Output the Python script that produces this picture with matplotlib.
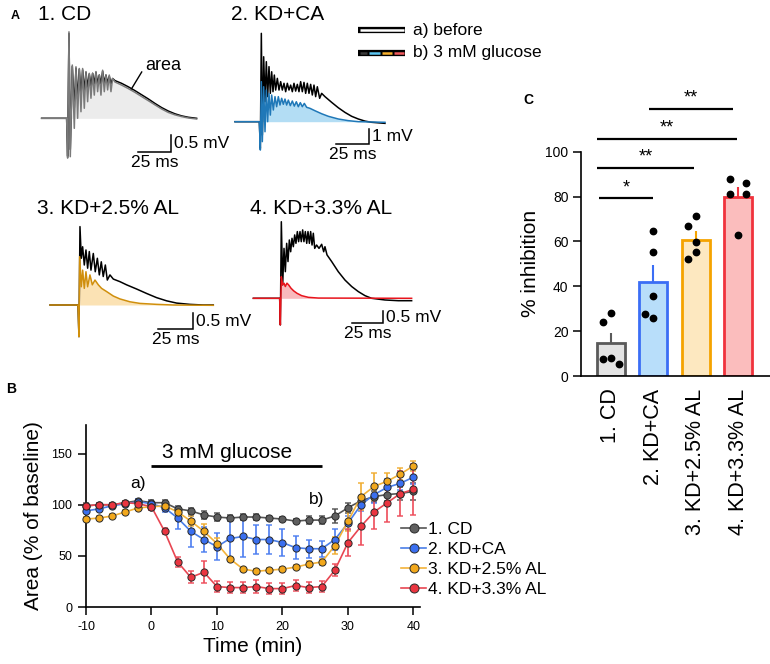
import numpy as np
import matplotlib
matplotlib.use('Agg')
import matplotlib.pyplot as plt
from matplotlib.lines import Line2D

plt.rcParams['font.family'] = ['Liberation Sans', 'DejaVu Sans']
plt.rcParams['axes.unicode_minus'] = False

# ---------------- DATA ----------------
# Panel A traces (time in ms, voltage in mV)
cd_t = [-20, -1.25, -0.5, 0.5, 1.5, 3.0, 4.5, 5.75, 7.0, 8.25, 9.5, 10.75, 12.0, 13.25, 14.5, 15.75,
        17.0, 18.25, 19.5, 20.75, 22.0, 23.25, 24.5, 25.75, 27.0, 28.25, 29.5, 30.75, 32.0, 33.25,
        35, 40, 45, 50, 55, 60, 65, 70, 75, 80, 85, 90, 96.25]
cd_before = [0, 0, -1.1, 2.45, -0.9, 1.50, 0.3, 1.45, 0.55, 1.42, 0.7, 1.40, 0.8, 1.33, 0.9, 1.28,
             0.95, 1.30, 1.0, 1.33, 1.0, 1.25, 1.0, 1.36, 1.02, 1.25, 1.02, 1.22, 1.0, 1.15,
             1.09, 1.01, 0.91, 0.80, 0.68, 0.56, 0.43, 0.31, 0.21, 0.13, 0.07, 0.03, 0.0]
cd_after = [0, 0, -1.15, 2.5, -1.11, 1.54, -0.29, 1.49, 0.0, 1.44, 0.19, 1.44, 0.29, 1.35, 0.48, 1.30,
            0.58, 1.30, 0.67, 1.35, 0.77, 1.25, 0.67, 1.39, 0.77, 1.25, 0.82, 1.25, 0.77, 1.15,
            1.05, 0.96, 0.86, 0.75, 0.63, 0.51, 0.39, 0.27, 0.17, 0.10, 0.05, 0.01, -0.02]

ca_t_before = [-19.5, -1.25, -0.5, 0.25, 1.0, 2.0, 3.0, 4.0, 5.0, 6.0, 7.0, 8.0, 9.0, 10.0, 11.0,
               12.25, 13.5, 14.75, 16.0, 17.25, 18.5, 19.75, 21.0, 22.25, 23.5, 24.75, 26.0, 27.25,
               28.5, 29.75, 31.0, 32.25, 33.5, 34.75, 36.0, 37.25, 38.5, 39.75, 41.0, 42.25, 44.0,
               45.5, 48, 53, 58, 63, 68, 73, 78, 83, 93]
ca_before = [0, 0, -1.78, 5.89, -0.89, 4.33, 1.33, 4.0, 1.67, 3.67, 1.89, 3.33, 2.0, 3.11, 2.11,
             2.89, 2.11, 2.67, 2.11, 2.56, 2.0, 2.56, 2.11, 2.44, 2.0, 2.56, 2.04, 2.49,
             2.0, 2.67, 2.0, 2.62, 1.89, 2.56, 1.89, 2.49, 1.78, 2.44, 1.67, 2.33, 1.56,
             1.89, 1.67, 1.29, 0.93, 0.62, 0.36, 0.18, 0.04, -0.04, -0.11]
ca_t_after = [-19.5, -1.25, -0.5, 0.25, 1.0, 2.0, 3.0, 4.0, 5.0, 6.0, 7.0, 8.0, 9.25, 10.5, 11.75,
              13.0, 14.25, 15.5, 16.75, 18, 19.25, 20.5, 22, 23.5, 25, 26.5, 28, 29.5, 31, 32.5,
              34.25, 36.75, 40.5, 45.5, 50.5, 58, 65.5, 73, 83, 93]
ca_after = [0, 0, -1.89, 2.67, -1.33, 2.33, -0.67, 2.11, 0.0, 1.89, 0.44, 1.78, 0.78, 1.67, 1.0,
            1.67, 1.11, 1.56, 1.16, 1.51, 1.11, 1.44, 1.07, 1.38, 1.04, 1.33, 1.0, 1.27, 1.0, 1.22,
            0.96, 0.89, 0.73, 0.53, 0.36, 0.18, 0.07, 0.0, -0.02, -0.04]

al25_t_before = [-20.9, -0.95, -0.24, 0.48, 1.43, 2.38, 3.57, 4.76, 5.95, 7.14, 8.33, 10.0, 11.4,
                 12.9, 14.3, 15.7, 17.1, 18.6, 20.0, 21.9, 24.3, 29.0, 33.8, 40.9, 48.1, 55.2,
                 62.4, 69.5, 79.0, 88.5, 95.7]
al25_before = [0, 0, -0.99, 2.45, 1.46, 1.82, 1.25, 1.72, 1.15, 1.67, 1.09, 1.61, 1.04,
               1.46, 0.94, 1.35, 0.89, 1.25, 0.78, 0.94, 0.81, 0.73, 0.63, 0.50, 0.36, 0.23,
               0.13, 0.06, 0.02, 0.0, 0.0]
al25_t_after = [-20.9, -0.95, -0.24, 0.24, 1.43, 2.38, 3.57, 4.76, 5.95, 7.6, 9.3, 11.2, 13.6,
                15.9, 19.5, 24.3, 29.0, 36.2, 43.3, 55.2, 67.1, 95.7]
al25_after = [0, 0, -0.99, 1.51, 0.57, 1.09, 0.52, 1.04, 0.57, 0.94, 0.63, 0.78, 0.63,
              0.52, 0.42, 0.28, 0.19, 0.10, 0.05, 0.02, 0.0, -0.01]

al33_t_before = [-21.8, -1.05, -0.53, 0.26, 1.32, 2.37, 3.42, 4.47, 5.52, 6.58, 7.63, 8.68, 9.73,
                 10.8, 11.8, 12.9, 13.9, 15.0, 16.0, 17.1, 18.1, 19.2, 20.3, 21.3, 22.4, 23.4,
                 24.5, 25.5, 26.6, 28.1, 30.0, 32.1, 33.7, 34.7, 36.3, 40.0, 45.2, 50.5, 55.8,
                 61.0, 66.3, 71.5, 82.1, 92.6, 103.1]
al33_before = [0, 0, -1.11, 3.19, 0.56, 2.08, 1.11, 2.29, 1.53, 2.43, 1.94, 2.5, 2.15,
               2.64, 2.29, 2.78, 2.36, 2.78, 2.36, 2.85, 2.36, 2.78, 2.29, 2.78, 2.29, 2.78,
               2.22, 2.71, 2.08, 2.22, 2.08, 2.25, 1.94, 2.15, 1.81, 1.53, 1.11, 0.76, 0.49,
               0.28, 0.11, 0.0, -0.07, -0.1, -0.1]
al33_t_after = [-21.8, -1.05, -0.53, 0.26, 1.32, 2.37, 3.42, 4.7, 6.0, 7.9, 10.0, 12.6, 16.3,
                21.6, 29.5, 103.1]
al33_after = [0, 0, -1.11, 0.9, 0.56, 0.63, 0.49, 0.63, 0.56, 0.42, 0.31, 0.21, 0.11,
              0.04, 0.01, 0.0]

# Panel B: time course (mean +/- SEM, % of baseline)
time_min = [-10, -8, -6, -4, -2, 0, 2, 4, 6, 8, 10, 12, 14, 16, 18, 20, 22, 24, 26, 28, 30, 32, 34, 36, 38, 40]
cd_mean = [99, 100, 100, 102, 104, 102, 102, 96, 94, 90, 88, 87, 88, 88, 87, 86, 84, 85, 85, 89, 97, 104, 108, 110, 111, 113]
cd_sem = [3, 2, 2, 2, 2, 3, 3, 3, 3, 4, 4, 3, 3, 3, 2, 2, 2, 4, 4, 7, 5, 5, 5, 6, 6, 8]
ca_mean = [94, 96, 99, 101, 103, 101, 97, 87, 74, 66, 59, 67, 69, 66, 66, 63, 58, 57, 57, 66, 82, 100, 110, 117, 121, 127]
ca_sem = [2, 2, 2, 2, 3, 3, 4, 11, 15, 12, 13, 18, 20, 14, 14, 13, 11, 9, 8, 10, 7, 6, 8, 8, 7, 7]
al25_mean = [86, 87, 89, 93, 97, 98, 99, 93, 84, 74, 62, 47, 37, 35, 36, 37, 39, 42, 44, 60, 84, 108, 118, 123, 130, 138]
al25_sem = [2, 2, 2, 2, 2, 2, 2, 4, 5, 7, 5, 2, 2, 2, 2, 2, 2, 3, 3, 8, 10, 13, 13, 8, 6, 5]
al33_mean = [99, 100, 100, 102, 101, 98, 74, 44, 29, 34, 20, 19, 19, 20, 18, 18, 21, 19, 20, 36, 63, 79, 93, 102, 111, 115]
al33_sem = [2, 2, 2, 2, 3, 3, 3, 5, 6, 11, 5, 5, 5, 6, 5, 5, 5, 5, 5, 6, 13, 18, 17, 19, 22, 25]
glucose_start, glucose_end = 0, 26

# Panel C: % inhibition
groups = ['1. CD', '2. KD+CA', '3. KD+2.5% AL', '4. KD+3.3% AL']
inhib_mean = [14.5, 41.8, 60.8, 79.7]
inhib_sem = [4.8, 7.8, 3.8, 4.5]
cd_pts = [24.2, 27.9, 7.4, 7.9, 5.5]
ca_pts = [64.6, 55.3, 35.8, 27.5, 26.0]
al25_pts = [71.3, 67.0, 59.6, 55.1, 52.0]
al33_pts = [87.7, 86.0, 81.3, 81.3, 62.7]
sig_labels = ['*', '**', '**', '**']

# ---------------- FIGURE ----------------
W, H = 770, 664
fig = plt.figure(figsize=(W / 100, H / 100), dpi=100)


def px_axes(l, t, r, b):
    ax = fig.add_axes([l / W, 1 - b / H, (r - l) / W, (b - t) / H])
    ax.patch.set_visible(False)
    return ax


ov = px_axes(0, 0, W, H)
ov.set_xlim(0, W)
ov.set_ylim(H, 0)
ov.axis('off')

# panel letters
ov.text(15, 16, 'A', fontsize=9, fontweight='bold', ha='center', va='center')
ov.text(11, 389, 'B', fontsize=10, fontweight='bold', ha='center', va='center')
ov.text(528, 100, 'C', fontsize=10, fontweight='bold', ha='center', va='center')

# ---------------- Panel A ----------------
gray_c, blue_c, orange_c, red_c = '#7a7a7a', '#1f78b8', '#d08f0c', '#e8141c'
gray_f, blue_f, orange_f, red_f = '#ececec', '#b3ddf4', '#fbe2b4', '#f8babd'

insets = [
    dict(title='1. CD', tpos=(38, 15), box=(36, 26, 202, 168), t0=68.3, pxms=1.333, base=118.3, pxmv=34.6,
         tb=cd_t, vb=cd_before, ta=cd_t, va=cd_after, col=gray_c, fcol=gray_f, mv='0.5 mV', mvlen=0.5),
    dict(title='2. KD+CA', tpos=(231, 15), box=(228, 26, 392, 160), t0=261, pxms=1.333, base=121.7, pxmv=15,
         tb=ca_t_before, vb=ca_before, ta=ca_t_after, va=ca_after, col=blue_c, fcol=blue_f, mv='1 mV', mvlen=1.0),
    dict(title='3. KD+2.5% AL', tpos=(37, 209), box=(44, 220, 220, 345), t0=79.3, pxms=1.4, base=305, pxmv=32,
         tb=al25_t_before, vb=al25_before, ta=al25_t_after, va=al25_after, col=orange_c, fcol=orange_f,
         mv='0.5 mV', mvlen=0.5),
    dict(title='4. KD+3.3% AL', tpos=(250, 209), box=(248, 216, 416, 335), t0=281, pxms=1.267, base=298.3, pxmv=24,
         tb=al33_t_before, vb=al33_before, ta=al33_t_after, va=al33_after, col=red_c, fcol=red_f,
         mv='0.5 mV', mvlen=0.5),
]
bar_px = [(171, 152.3), (369, 144.0), (193.3, 329.3), (383.3, 323.3)]

for ins, (bx, by) in zip(insets, bar_px):
    l, t, r, b = ins['box']
    ax = px_axes(l, t, r, b)
    ax.set_xlim((l - ins['t0']) / ins['pxms'], (r - ins['t0']) / ins['pxms'])
    ax.set_ylim((ins['base'] - b) / ins['pxmv'], (ins['base'] - t) / ins['pxmv'])
    ax.axis('off')
    ta = np.array(ins['ta'])
    va = np.array(ins['va'])
    ax.fill_between(ta, np.clip(va, 0, None), 0, where=ta >= 0, color=ins['fcol'], lw=0, zorder=1)
    ax.plot(ins['tb'], ins['vb'], color='black', lw=1.1, zorder=2, clip_on=False)
    ax.plot(ta, va, color=ins['col'], lw=1.1, zorder=3, clip_on=False)
    # scale bars
    tc = (bx - ins['t0']) / ins['pxms']
    vc = (ins['base'] - by) / ins['pxmv']
    ax.plot([tc - 25, tc, tc], [vc, vc, vc + ins['mvlen']], color='black', lw=1.1, clip_on=False,
            solid_joinstyle='miter')
    ov.text(bx + 3, by - ins['mvlen'] * ins['pxmv'] / 2, ins['mv'], fontsize=12.5, ha='left', va='center')
    ov.text(bx - 25 * ins['pxms'] / 2, by + 3, '25 ms', fontsize=12.5, ha='center', va='top')
    ov.text(ins['tpos'][0], ins['tpos'][1], ins['title'], fontsize=15, ha='left', va='center')
    if ins['title'] == '1. CD':
        ov.text(163, 66, 'area', fontsize=13, ha='center', va='center')
        ov.plot([141.7, 121.7], [72, 105], color='black', lw=1)

# Panel A legend glyphs
ov.plot([358, 405], [30, 30], color='black', lw=4.5, solid_capstyle='butt')
ov.plot([359.5, 403.5], [30, 30], color='white', lw=1.8, solid_capstyle='butt')
ov.plot([358, 405], [53, 53], color='black', lw=4.5, solid_capstyle='butt')
for (x0, x1), c in zip([(359.5, 366.5), (368.5, 379.5), (381.5, 391.5), (393.5, 403.5)],
                       ['#3a3a3a', '#5cc6f2', '#f7b02e', '#f25a5e']):
    ov.plot([x0, x1], [53, 53], color=c, lw=1.8, solid_capstyle='butt')
ov.text(413, 30, 'a) before', fontsize=12.5, ha='left', va='center')
ov.text(413, 53, 'b) 3 mM glucose', fontsize=12.5, ha='left', va='center')

# ---------------- Panel B ----------------
axB = px_axes(86, 425, 420, 607)
series = [
    ('1. CD', cd_mean, cd_sem, '#5f5f5f', '#555555', '#505050'),
    ('2. KD+CA', ca_mean, ca_sem, '#3a6ff0', '#4a7ee8', '#4a7cf0'),
    ('3. KD+2.5% AL', al25_mean, al25_sem, '#f2a81c', '#f3b33a', '#f0ac30'),
    ('4. KD+3.3% AL', al33_mean, al33_sem, '#ea3540', '#e84652', '#ee4a58'),
]
handles = []
for lab, m, s, fc, lc, ec in series:
    axB.errorbar(time_min, m, yerr=s, fmt='none', ecolor=ec, elinewidth=1.4, capsize=2.5,
                 capthick=1.2, alpha=0.85, zorder=2, clip_on=False)
    axB.plot(time_min, m, '-', color=lc, lw=1.2, zorder=3, clip_on=False)
    axB.plot(time_min, m, 'o', ms=5.2, mfc=fc, mec='#2a2a2a', mew=0.7, zorder=4, clip_on=False)
    handles.append(Line2D([], [], color=lc, lw=1.2, marker='o', ms=6.5, mfc=fc, mec='#2a2a2a', mew=0.7))

axB.set_xlim(-10, 41)
axB.set_ylim(0, 178)
for sp in ['top', 'right']:
    axB.spines[sp].set_visible(False)
for sp in ['left', 'bottom']:
    axB.spines[sp].set_linewidth(1.2)
axB.set_xticks([-10, 0, 10, 20, 30, 40])
axB.set_yticks([0, 50, 100, 150])
axB.tick_params(direction='out', length=6, width=1.1, labelsize=9, pad=4)
axB.set_xlabel('Time (min)', fontsize=15, labelpad=3)
axB.set_ylabel('Area (% of baseline)', fontsize=15, labelpad=6)
axB.plot([glucose_start, glucose_end], [137.5, 137.5], color='black', lw=2, solid_capstyle='butt')
axB.text(11.6, 151, '3 mM glucose', fontsize=15, ha='center', va='center')
axB.text(-2.0, 121, 'a)', fontsize=12.5, ha='center', va='center')
axB.text(25.2, 105, 'b)', fontsize=12.5, ha='center', va='center')

axB.legend(handles, [s[0] for s in series], loc='upper left',
           bbox_to_anchor=(401 / W, 1 - 522 / H), bbox_transform=fig.transFigure,
           frameon=False, fontsize=12.5, handlelength=1.45, handletextpad=0.1,
           labelspacing=0.28, borderpad=0, borderaxespad=0)

# ---------------- Panel C ----------------
axC = px_axes(581, 151.7, 770, 376)
edge_c = ['#5a5a5a', '#3b6ef5', '#f5a300', '#f0323c']
face_c = ['#e3e3e3', '#b8defa', '#fde8c0', '#fbbdbd']
xpos = np.arange(len(groups))
axC.bar(xpos, inhib_mean, width=0.66, color=face_c, edgecolor=edge_c, linewidth=2.0, zorder=2)
for i in range(len(groups)):
    axC.errorbar(xpos[i], inhib_mean[i], yerr=[[0], [inhib_sem[i]]], fmt='none', ecolor=edge_c[i],
                 elinewidth=1.5, capsize=0, zorder=1)
jitter = [[-0.19, 0.0, -0.19, 0.0, 0.19],
          [0.0, 0.0, 0.0, -0.19, 0.0],
          [0.0, -0.19, 0.0, 0.0, -0.19],
          [-0.19, 0.19, -0.19, 0.19, 0.0]]
for i, pts in enumerate([cd_pts, ca_pts, al25_pts, al33_pts]):
    axC.plot(xpos[i] + np.array(jitter[i]), pts, 'o', color='black', ms=4.6, zorder=4, clip_on=False)

axC.set_xlim(-0.7, 3.75)
axC.set_ylim(0, 100)
for sp in ['top', 'right']:
    axC.spines[sp].set_visible(False)
for sp in ['left', 'bottom']:
    axC.spines[sp].set_linewidth(1.2)
axC.set_yticks([0, 20, 40, 60, 80, 100])
axC.tick_params(axis='y', direction='out', length=6, width=1.1, labelsize=10, pad=3)
axC.set_xticks(xpos)
axC.set_xticklabels(groups, rotation=90, fontsize=15.5)
axC.tick_params(axis='x', length=0, pad=9)
axC.set_ylabel('% inhibition', fontsize=15, labelpad=4)

sig_x0 = [-0.27, -0.33, -0.33, 0.89]
sig_x1 = [1.0, 1.97, 2.98, 2.89]
sig_y = [79.2, 92.9, 105.8, 119.0]
for x0, x1, y, lab in zip(sig_x0, sig_x1, sig_y, sig_labels):
    axC.plot([x0, x1], [y, y], color='black', lw=1.6, clip_on=False, solid_capstyle='butt')
    axC.text((x0 + x1) / 2, y + 1.0, lab, fontsize=13, ha='center', va='bottom')

fig.savefig('out.png', dpi=100)
